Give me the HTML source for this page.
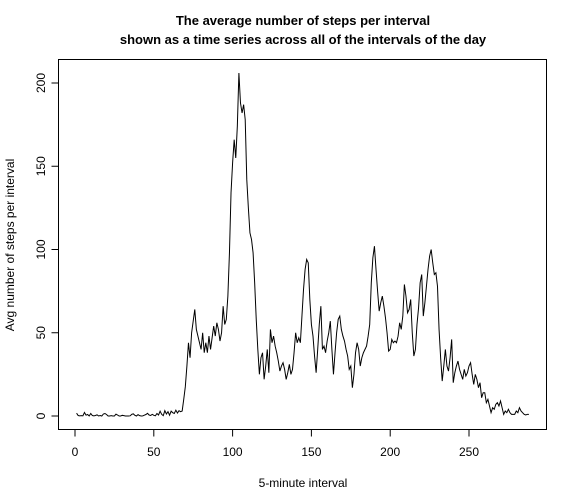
<!DOCTYPE html>
<html><head><meta charset="utf-8"><style>
html,body{margin:0;padding:0;background:#fff;}
svg{display:block;font-family:"Liberation Sans",Arial,sans-serif;}
</style></head><body>
<svg id="chart" width="576" height="504" xmlns="http://www.w3.org/2000/svg">
<text x="303" y="25" text-anchor="middle" font-size="13" font-weight="bold">The average number of steps per interval</text>
<text x="303" y="44" text-anchor="middle" font-size="13" font-weight="bold">shown as a time series across all of the intervals of the day</text>
<rect x="58.5" y="59.5" width="488" height="370" fill="none" stroke="#000" stroke-width="1"/>
<g id="xaxis"></g>
<g id="yaxis"></g>
<path id="series" fill="none" stroke="#000" stroke-width="1"/>
<text x="303" y="487" text-anchor="middle" font-size="12">5-minute interval</text>
<text transform="translate(14,245) rotate(-90)" text-anchor="middle" font-size="12">Avg number of steps per interval</text>
</svg>
<script>
const xTicks=[0,50,100,150,200,250];
const yTicks=[0,50,100,150,200];
const steps=[
1.7,0.3,0.1,0.2,0.1,2.1,0.5,0.9,0,1.5,0.3,0.1,
0.3,0.7,0,0.3,0,1.2,1.5,0.9,0,0,0.2,0,
0,1.1,0.6,0,0,0.4,0.2,0,0,0,0.1,1.0,
1.3,0.4,0,0.8,0.2,0,0.1,0.5,0.9,1.6,0.6,0.3,
1.0,0.4,0.1,1.5,0.6,2.9,1.0,0.2,3.2,1.2,2.6,0.5,
2.9,2.0,1.5,3.5,1.8,3.2,2.6,3.0,10,17.6,30,44,
35,50,57,64,52,48,44,40,50,38,44,38,
48,40,47,54,48,56,52,45,50,66,55,58,
72,98,134,152,166,155,174,206,188,182,187,178,
142,125,110,106,98,80,58,40,25,35,38,22,
30,40,26,52,44,48,42,38,33,27,30,32,
28,22,26,31,25,28,38,50,44,47,44,60,
76,88,94,92,70,55,48,36,26,40,55,66,
40,42,38,45,50,57,40,25,38,50,58,60,
52,48,45,40,36,28,30,17,25,38,44,40,
30,35,38,40,42,48,55,80,95,102,88,75,
63,68,72,66,59,50,39,40,46,44,45,44,
48,56,52,60,79,72,62,64,70,50,36,40,
55,65,80,85,60,68,78,88,96,100,92,85,
86,78,52,35,21,30,40,30,27,35,46,20,
26,30,33,28,25,22,28,24,26,30,32,25,
19,25,22,17,20,11,14,14,8,10,6,2,
5,4,7,8,6,9,5,1,3,2,4,2,
1,1,1,3,2,5,3,2,1,0.6,1,1];
const X=v=>75+v*1.576;
const Y=v=>416-v*1.665;
const NS="http://www.w3.org/2000/svg";
const xa=document.getElementById('xaxis'),ya=document.getElementById('yaxis');
function mk(tag,attrs,parent){const e=document.createElementNS(NS,tag);for(const k in attrs)e.setAttribute(k,attrs[k]);parent.appendChild(e);return e;}
const xl=mk('line',{x1:X(xTicks[0]),x2:X(xTicks[xTicks.length-1]),y1:429.5,y2:429.5,stroke:'#000'},xa);


xTicks.forEach(t=>{
 const l=mk('line',{x1:X(t),x2:X(t),y1:429.5,y2:436.5,stroke:'#000'},xa);
 
 
 const tx=mk('text',{x:X(t),y:456,'text-anchor':'middle','font-size':12},xa);
 tx.textContent=t;
 
 
});
const yl=mk('line',{x1:58.5,x2:58.5,y1:Y(yTicks[0]),y2:Y(yTicks[yTicks.length-1]),stroke:'#000'},ya);


yTicks.forEach(t=>{
 const l=mk('line',{x1:51.5,x2:58.5,y1:Y(t),y2:Y(t),stroke:'#000'},ya);
 
 
 const tx=mk('text',{transform:`translate(45,${Y(t)}) rotate(-90)`,'text-anchor':'middle','font-size':12},ya);
 tx.textContent=t;
 
 
});
document.getElementById('series').setAttribute('d',steps.map((v,i)=>(i?'L':'M')+X(i+1).toFixed(2)+' '+Y(v).toFixed(2)).join(' '));
</script>
</body></html>
